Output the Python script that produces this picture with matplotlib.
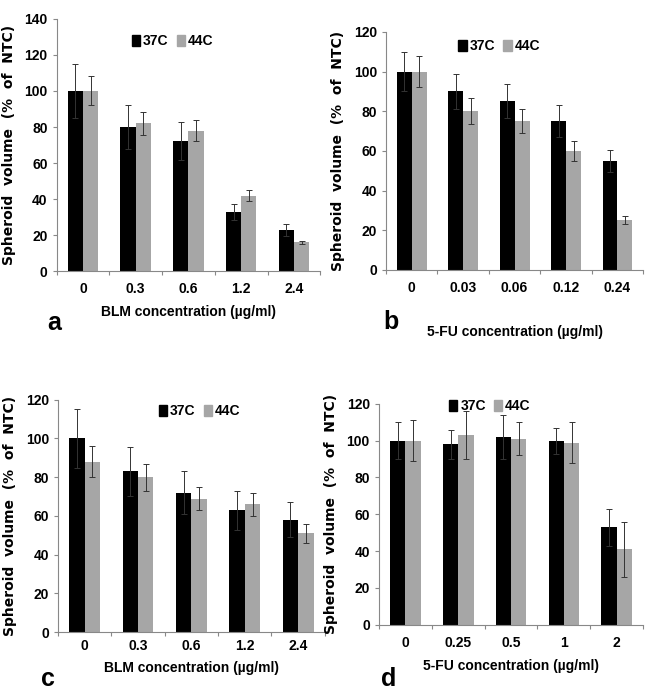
import numpy as np
import matplotlib.pyplot as plt
from matplotlib.patches import Patch

plt.rcParams['font.family'] = ['Liberation Sans Narrow', 'Liberation Sans', 'DejaVu Sans']

# panel a: BLM
a_cats = ["0", "0.3", "0.6", "1.2", "2.4"]
a_37 = [100, 80, 72, 33, 23]
a_37_err = [15, 12, 10.5, 4.5, 3.5]
a_44 = [100, 82, 78, 42, 16]
a_44_err = [8, 6.5, 6, 3, 1]

# panel b: 5-FU
b_cats = ["0", "0.03", "0.06", "0.12", "0.24"]
b_37 = [100, 90, 85, 75, 55]
b_37_err = [10, 9, 8.5, 8, 5.5]
b_44 = [100, 80, 75, 60, 25]
b_44_err = [8, 6.5, 6, 5, 2]

# panel c: BLM
c_cats = ["0", "0.3", "0.6", "1.2", "2.4"]
c_37 = [100, 83, 72, 63, 58]
c_37_err = [15, 12.5, 11, 10, 9]
c_44 = [88, 80, 69, 66, 51]
c_44_err = [8, 7, 6, 6, 5]

# panel d: 5-FU
d_cats = ["0", "0.25", "0.5", "1", "2"]
d_37 = [100, 98, 102, 100, 53]
d_37_err = [10, 8, 12, 7, 10]
d_44 = [100, 103, 101, 99, 41]
d_44_err = [11, 13, 9, 11, 15]

BLACK = "#000000"
GRAY = "#a6a6a6"


def panel(rect, cats, v37, e37, v44, e44, ymax, xlabel, letter, letter_xy, xlabel_y, leg_xy, pad):
    ax = fig.add_axes(rect)
    x = np.arange(len(cats)) + 0.5
    w = 0.29
    ax.bar(x - w / 2, v37, w, color=BLACK)
    ax.bar(x + w / 2, v44, w, color=GRAY)
    ax.errorbar(x - w / 2, v37, yerr=e37, fmt="none", ecolor="#333333", elinewidth=0.7, capsize=2.5, capthick=0.7)
    ax.errorbar(x + w / 2, v44, yerr=e44, fmt="none", ecolor="#333333", elinewidth=0.7, capsize=2.5, capthick=0.7)
    ax.set_xlim(0, len(cats))
    ax.set_ylim(0, ymax)
    ax.set_yticks(np.arange(0, ymax + 1, 20))
    # category boundaries get the tick marks, centres get the labels
    ax.set_xticks(np.arange(len(cats) + 1))
    ax.set_xticklabels([])
    ax.set_xticks(x, minor=True)
    ax.set_xticklabels(cats, minor=True, fontsize=10, fontweight="bold")
    ax.tick_params(axis="x", which="minor", length=0, pad=pad)
    ax.tick_params(axis="x", which="major", length=3, color="#888888")
    ax.tick_params(axis="y", length=3, color="#888888", labelsize=10)
    for lab in ax.get_yticklabels():
        lab.set_fontweight("bold")
    for s in ["top", "right"]:
        ax.spines[s].set_visible(False)
    ax.spines["left"].set_color("#888888")
    ax.spines["bottom"].set_color("#888888")
    ax.set_ylabel("Spheroid  volume  (%  of  NTC)", fontsize=10, fontweight="bold",
                  family=["DejaVu Sans"], labelpad=6)
    fig.text(rect[0] + rect[2] * 0.5, xlabel_y, xlabel, ha="center", va="center", fontsize=10, fontweight="bold")
    fig.text(letter_xy[0], letter_xy[1], letter, ha="left", va="center", fontsize=18, fontweight="bold")
    handles = [Patch(color=BLACK, label="37C"), Patch(color=GRAY, label="44C")]
    ax.legend(handles=handles, loc="center", bbox_to_anchor=leg_xy, ncol=2, frameon=False,
              handlelength=0.6, handleheight=0.8, handletextpad=0.2, columnspacing=0.6,
              prop={"weight": "bold", "size": 10})
    return ax


fig = plt.figure(figsize=(6.51, 6.94), dpi=100)

panel([0.087, 0.609, 0.405, 0.364], a_cats, a_37, a_37_err, a_44, a_44_err, 140,
      "BLM concentration (\u00b5g/ml)", "a", (0.072, 0.535), 0.550, (0.44, 0.91), 8)
panel([0.593, 0.611, 0.395, 0.343], b_cats, b_37, b_37_err, b_44, b_44_err, 120,
      "5-FU concentration (\u00b5g/ml)", "b", (0.589, 0.536), 0.522, (0.44, 0.94), 8)
panel([0.089, 0.089, 0.410, 0.335], c_cats, c_37, c_37_err, c_44, c_44_err, 120,
      "BLM concentration (\u00b5g/ml)", "c", (0.063, 0.021), 0.037, (0.53, 0.95), 5)
panel([0.582, 0.100, 0.406, 0.318], d_cats, d_37, d_37_err, d_44, d_44_err, 120,
      "5-FU concentration (\u00b5g/ml)", "d", (0.585, 0.021), 0.041, (0.42, 0.99), 8)

fig.savefig("out.png", dpi=100)
